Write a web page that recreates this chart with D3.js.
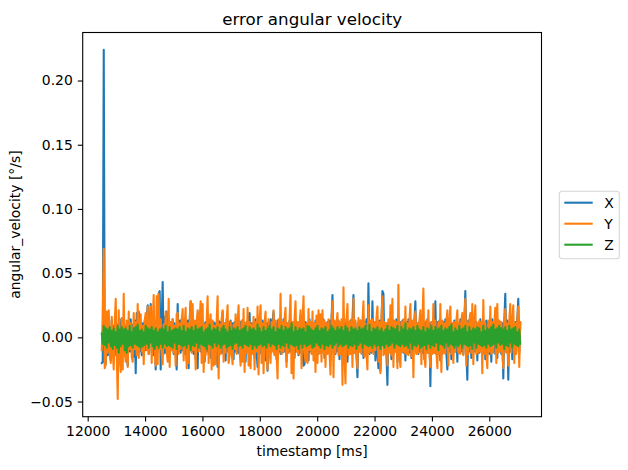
<!DOCTYPE html>
<html>
<head>
<meta charset="utf-8">
<script src="https://cdn.jsdelivr.net/npm/d3@7"></script>
<style>
    body { margin: 0; background: #ffffff; }
    svg { display: block; font-family: "DejaVu Sans", sans-serif; }
</style>
</head>
<body>
<svg id="chart" width="628" height="470"></svg>
<script>
// error of the angular velocity per axis
// values are in thousandths of a degree per second (m°/s)
var errX = [
    -20, -19, 224, -20, -21, 12, -14, 10, -12, -18, 13, -10, 9, -14, 12, -11, 10, -13, 14, -9,
    11, -12, 15, -10, 9, -13, -22, 12, -11, 14, -12, 10, -15, 13, -28, 19, -12, 20, -11, 12,
    -14, 11, -12, 13, -10, 14, 25, -13, 11, 26, -12, 13, -14, 12, -25, 14, -11, 34, 36, -25,
    12, 43, -13, 16, -12, 20, -11, 13, -14, 12, -10, 14, -13, 11, -12, -25, 26, -11, 13, -12,
    14, -10, 12, -13, 11, -18, 13, -24, 14, 28, -11, 12, -13, 11, -17, 13, -24, 12, 20, -11,
    13, -12, 11, -19, 12, -11, 14, -13, 12, -16, 13, -11, 12, -14, 11, -13, -23, 13, -11, 12,
    -12, 20, -13, 11, -18, 14, -11, 12, -13, 13, -12, 11, -17, 12, -11, 13, -12, 11, -13, 12,
    -11, 13, -12, 11, -19, 12, -11, 13, 19, -12, 11, -13, 12, -16, 14, -11, -23, 12, -13, 11,
    -12, 13, -11, 12, -18, 11, -26, 12, -12, 14, -11, 12, 20, -13, 11, -17, 13, -11, 12, -13,
    12, -12, 14, -11, 12, -19, 11, -12, 13, -11, 12, -13, 11, -16, 13, -11, 12, -14, 11, -12,
    13, -11, -22, -21, 12, -13, 11, -18, 14, -11, 12, -13, 11, -17, 13, -11, 12, -13, 11, -12,
    13, -11, 14, -16, 11, -13, 12, -11, 13, -18, 14, 33, -12, 11, -13, 12, -11, 13, -17, 11,
    -13, 12, -11, 14, -12, 11, -19, 12, -11, 13, -12, 14, 33, -12, 11, -13, -31, 12, -11, 13,
    -12, 11, -16, 12, -11, 14, -12, 42, -13, 11, -12, 28, -11, 12, -18, 11, -12, -24, 13, -26,
    12, 36, 34, -12, 11, -13, -37, 12, -11, 13, -17, 11, -13, 12, -11, 14, -19, 11, -13, 12,
    -11, 13, -12, 11, -18, 12, -11, 14, -12, 11, -16, 12, -11, 13, 28, -12, 11, -13, 12, -11,
    13, -12, 11, -17, 12, -11, 14, -12, 11, -38, 12, -11, 13, -12, 28, -13, 12, -11, 13, -18,
    11, -13, 12, -11, 14, -12, -25, 13, -11, 12, -17, 11, -12, 13, -11, 12, -19, 11, -12, 14,
    -11, 12, -13, 11, 36, -12, -33, 13, -11, 12, -16, 11, -12, 13, -11, 12, -18, 11, -12, 14,
    -11, 12, -13, 11, -17, 13, -11, 12, -13, 11, -19, 14, -11, 12, -13, 11, -16, 13, -11, 12,
    -13, 11, -32, 12, 34, -11, 13, -33, 12, -11, 13, -17, 11, -13, 12, -11, 14, 30, -12, 11
];
var errY = [
    -10, 14, 69, -24, -21, 20, -12, 21, -9, -20, 16, -11, -25, 12, 30, -13, -48, 21, -14, -27,
    15, -25, 34, -12, -19, 13, -23, 20, -9, 11, -15, -19, 19, -9, 12, -14, 26, -16, 10, 18,
    -11, 9, -21, 13, 19, -10, 24, -13, 8, 24, -20, 11, 33, -12, -22, 32, -21, 34, -9, 14,
    -13, -21, 10, -8, 20, -11, -19, 30, -23, 12, -10, 14, -12, 9, -22, 18, 19, -13, 11, -9,
    13, 22, -18, 10, 23, -24, 11, -20, 9, 28, -12, 26, -10, 13, -25, 12, 21, -11, 14, 28,
    -20, 26, -27, 10, -14, 12, 32, -20, 11, 18, -25, 13, -22, 9, -21, 12, 32, -32, 10, -13,
    14, 21, -19, 11, -12, 13, 25, -20, -14, 12, -11, -21, 10, -9, 18, -13, 12, 25, -10, -22,
    13, -19, 22, -27, 11, -12, 23, -22, 12, -24, 10, -13, 16, -25, 12, -11, 24, -29, 13, 25,
    -20, 11, -28, 12, 20, -13, -25, 14, -10, -20, 12, -11, 21, -14, 13, -12, -32, 14, -10, 34,
    -13, 12, -11, 14, 23, -23, 11, -12, 13, 33, -28, 12, -32, 14, 28, -11, 12, -13, 10, 21,
    -24, 13, 32, -12, -19, 11, -20, 22, -10, 12, -13, 20, -18, 11, -27, 17, -20, 21, -12, 18,
    -19, 21, -12, 13, -23, 11, -13, 14, -11, -29, 12, 28, -31, 13, -12, 11, 19, -14, 12, -13,
    14, -37, 39, -15, -36, 13, 26, -14, 12, -13, 14, -23, 30, -12, 13, -14, -24, 15, -11, 13,
    -13, 12, 28, -15, 11, -13, -25, 25, -12, 13, -11, 14, -13, 12, -10, 15, 24, -19, 12, -28,
    13, 32, -14, 12, -13, 11, -22, 14, -12, 25, -14, 30, -23, 13, -11, 12, -24, 41, -13, -23,
    12, -11, 14, -12, 24, -13, 11, -14, 12, 26, -15, 13, -31, 12, 20, -13, 11, -12, 13, 21,
    -21, 12, 38, -14, -23, 13, -12, 21, -11, -23, 12, -13, 26, -12, 13, -11, -24, 12, -13, 26,
    -27, 13, -12, 11, -13, 12, 21, -22, 12, 24, -13, 11, -20, 12, -11, 13, 21, -12, 11, -13,
    12, 19, -14, 13, 30, -22, 11, -13, 12, 19, -12, 26, -21, 12, 25, -13, 11, -12, 13, -11,
    12, -28, 29, -13, 11, -12, -24, 13, -11, 24, -13, 12, -12, 11, 23, -20, 26, -12, 13, -11,
    12, -13, -24, 12, 22, -12, 11, -22, 13, 26, -12, 12, 25, -20, 11, -13, 12, 24, -23, 12
];
var errZ = [
    3, -5, 9, -6, 7, -8, 6, -4, 8, -7, 5, -9, 7, -6, 4, -8, 9, -12, 6, -7,
    8, -5, 6, -10, 7, -12, 5, -7, 9, -6, 4, -8, 7, -5, 8, -6, 10, -7, 5, -8,
    6, -7, 4, -6, 9, -5, 7, -8, 6, -4, 8, -7, 5, -9, 7, -6, 4, -8, 6, -5,
    7, -8, 6, -5, 9, -7, 4, -6, 8, -7, 5, -8, 6, -4, 7, -9, 6, -5, 8, -6,
    5, -7, 9, -6, 4, -8, 7, -5, 6, -10, 8, -6, 5, -7, 9, -4, 6, -8, 7, -5,
    8, -6, 4, -7, 6, -9, 7, -5, 10, -6, 5, -8, 7, -4, 6, -7, 8, -5, 4, -8,
    7, -6, 9, -5, 6, -8, 4, -7, 8, -6, 5, -9, 7, -5, 6, -4, 8, -7, 5, -6,
    6, -8, 7, -5, 9, -6, 4, -7, 8, -5, 6, -9, 7, -6, 5, -8, 10, -6, 7, -5,
    4, -7, 8, -6, 5, -8, 7, -4, 9, -7, 6, -5, 8, -6, 4, -9, 7, -5, 6, -8,
    9, -6, 5, -7, 8, -4, 6, -8, 7, -5, 11, -6, 4, -7, 8, -6, 5, -9, 7, -5,
    6, -8, 7, -5, 4, -7, 9, -6, 8, -5, 6, -8, 5, -7, 7, -4, 9, -6, 5, -8,
    7, -5, 6, -9, 8, -6, 4, -7, 6, -5, 9, -8, 7, -6, 5, -4, 8, -7, 6, -5,
    8, -7, 5, -6, 9, -5, 7, -8, 4, -6, 8, -7, 6, -5, 7, -9, 5, -6, 8, -4,
    6, -8, 7, -5, 9, -6, 5, -7, 10, -6, 4, -8, 7, -5, 6, -7, 8, -6, 5, -9,
    7, -6, 4, -8, 6, -5, 9, -7, 5, -6, 8, -4, 7, -8, 6, -5, 9, -6, 4, -7,
    8, -5, 6, -7, 11, -6, 5, -8, 7, -4, 6, -9, 8, -6, 5, -7, 9, -5, 6, -8,
    5, -7, 8, -6, 4, -9, 7, -5, 6, -8, 9, -6, 5, -7, 8, -4, 6, -10, 7, -5,
    9, -6, 5, -8, 7, -4, 6, -7, 8, -5, 10, -6, 4, -8, 7, -6, 5, -7, 9, -5,
    6, -8, 7, -5, 9, -6, 4, -7, 8, -6, 5, -9, 7, -4, 6, -8, 8, -5, 7, -6,
    4, -7, 9, -6, 5, -8, 7, -5, 6, -7, 8, -6, 10, -5, 6, -8, 7, -4, 9, -6,
    7, -5, 6, -9, 8, -6, 5, -7, 9, -4, 6, -8, 7, -5, 8, -6, 4, -7, 6, -5
];
// first and last sample time, samples are evenly spaced
var firstStamp = 12490;
var lastStamp = 27080;

var seriesNames = ["X", "Y", "Z"];
var seriesColors = ["#1f77b4", "#ff7f0e", "#2ca02c"];
var xTicks = [12000, 14000, 16000, 18000, 20000, 22000, 24000, 26000];
var yTicks = [-0.05, 0.00, 0.05, 0.10, 0.15, 0.20];

var svg = d3.select("#chart");

// plot box edges in pixels
var box = {left: 82.7, right: 541.5, top: 32.5, bottom: 416.7};

var x = d3.scaleLinear().domain([11826, 27820]).range([box.left, box.right]);
var y = d3.scaleLinear().domain([-0.0618, 0.2374]).range([box.bottom, box.top]);
var stampOf = d3.scaleLinear().domain([0, errX.length - 1]).range([firstStamp, lastStamp]);

svg.append("rect")
    .attr("width", 628)
    .attr("height", 470)
    .attr("fill", "#ffffff");

//one path per axis, X first so Y and Z sit on top
var series = [errX, errY, errZ];
var line = d3.line()
    .x(function (d, i) { return x(stampOf(i)); })
    .y(function (d) { return y(d / 1000); });

svg.append("g")
    .selectAll("path")
    .data(series)
    .enter()
    .append("path")
    .attr("d", line)
    .attr("fill", "none")
    .attr("stroke", function (d, i) { return seriesColors[i]; })
    .attr("stroke-width", 2.08)
    .attr("stroke-linejoin", "round")
    .attr("stroke-linecap", "square");

// axes
var xAxis = d3.axisBottom(x)
    .tickValues(xTicks)
    .tickFormat(d3.format("d"))
    .tickSize(4.9)
    .tickPadding(5);
var yAxis = d3.axisLeft(y)
    .tickValues(yTicks)
    .tickFormat(d3.format(".2f"))
    .tickSize(4.9)
    .tickPadding(5);

var gx = svg.append("g").attr("transform", "translate(0," + box.bottom + ")").call(xAxis);
var gy = svg.append("g").attr("transform", "translate(" + box.left + ",0)").call(yAxis);

[gx, gy].forEach(function (g) {
    g.select(".domain").remove();
    g.selectAll(".tick line").attr("stroke", "#000").attr("stroke-width", 1.1);
    g.selectAll(".tick text")
        .attr("fill", "#000")
        .style("font-family", "'DejaVu Sans', sans-serif")
        .style("font-size", "13.9px");
});

// spines
svg.append("rect")
    .attr("x", box.left)
    .attr("y", box.top)
    .attr("width", box.right - box.left)
    .attr("height", box.bottom - box.top)
    .attr("fill", "none")
    .attr("stroke", "#000")
    .attr("stroke-width", 1.1);

// title and labels
svg.append("text")
    .attr("x", (box.left + box.right) / 2)
    .attr("y", 24.5)
    .attr("text-anchor", "middle")
    .style("font-size", "16.7px")
    .text("error angular velocity");

svg.append("text")
    .attr("x", (box.left + box.right) / 2)
    .attr("y", 455.5)
    .attr("text-anchor", "middle")
    .style("font-size", "13.9px")
    .text("timestamp [ms]");

svg.append("text")
    .attr("transform", "translate(20," + (box.top + box.bottom) / 2 + ") rotate(-90)")
    .attr("text-anchor", "middle")
    .style("font-size", "13.9px")
    .text("angular_velocity [°/s]");

// legend
var legend = svg.append("g").attr("transform", "translate(559.3,191.3)");
legend.append("rect")
    .attr("width", 60)
    .attr("height", 67.4)
    .attr("rx", 2.8)
    .attr("fill", "#ffffff")
    .attr("fill-opacity", 0.8)
    .attr("stroke", "#d6d6d6")
    .attr("stroke-width", 1.1);

var items = legend.selectAll(".item")
    .data(seriesNames)
    .enter()
    .append("g")
    .classed("item", true)
    .attr("transform", function (d, i) { return "translate(0," + (11.4 + i * 21) + ")"; });

items.append("line")
    .attr("x1", 5)
    .attr("x2", 33.4)
    .attr("stroke", function (d, i) { return seriesColors[i]; })
    .attr("stroke-width", 2.08);

items.append("text")
    .attr("x", 45)
    .attr("y", 5)
    .style("font-size", "13.9px")
    .text(function (d) { return d; });
</script>
</body>
</html>
